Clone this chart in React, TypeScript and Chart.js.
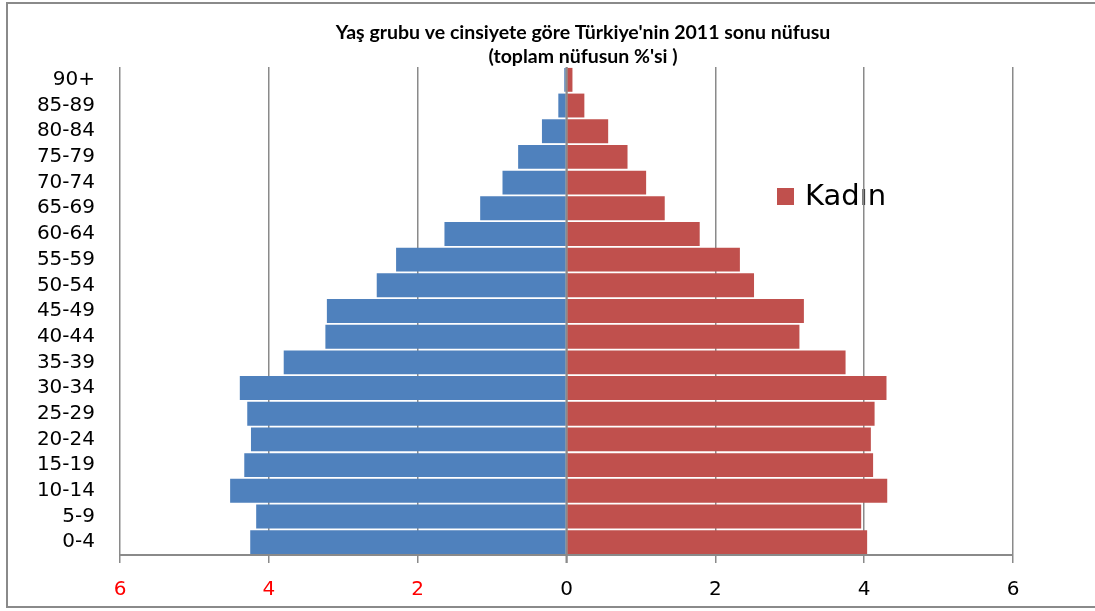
import React, { useEffect, useRef } from "react";
import { Chart, registerables } from "chart.js";

Chart.register(...registerables);

const ageGroups = [
  "0-4", "5-9", "10-14", "15-19", "20-24", "25-29", "30-34", "35-39", "40-44",
  "45-49", "50-54", "55-59", "60-64", "65-69", "70-74", "75-79", "80-84", "85-89", "90+",
];

const erkek = [4.25, 4.17, 4.52, 4.33, 4.24, 4.29, 4.39, 3.8, 3.24, 3.22, 2.55, 2.29, 1.64, 1.16, 0.86, 0.65, 0.33, 0.11, 0.03];
const kadin = [4.04, 3.96, 4.31, 4.12, 4.09, 4.14, 4.3, 3.75, 3.13, 3.19, 2.52, 2.33, 1.79, 1.32, 1.07, 0.82, 0.56, 0.24, 0.08];

const titleLines = ["Yaş grubu ve cinsiyete göre Türkiye'nin 2011 sonu nüfusu", "(toplam nüfusun %'si )"];
const legendLabel = "Kadın";

const BLUE = "#4F81BD";
const RED = "#C0504D";
const GRID = "#8a8a8a";

export default function App() {
  const ref = useRef<HTMLCanvasElement | null>(null);

  useEffect(() => {
    document.body.style.margin = "0";
    const canvas = ref.current;
    if (!canvas) return;

    const decor = {
      id: "decor",
      beforeDraw(chart: any) {
        const ctx = chart.ctx;
        ctx.save();
        ctx.fillStyle = "#ffffff";
        ctx.fillRect(0, 0, chart.width, chart.height);
        // outer frame
        ctx.strokeStyle = GRID;
        ctx.lineWidth = 2;
        ctx.strokeRect(7, 3, chart.width + 10, 604);
        // legend (only Kadın)
        ctx.fillStyle = RED;
        ctx.fillRect(777, 188, 17, 17);
        ctx.fillStyle = "#000";
        ctx.font = "29px 'DejaVu Sans'";
        ctx.textAlign = "left";
        ctx.textBaseline = "middle";
        ctx.fillText(legendLabel, 805, 197);
        ctx.restore();
      },
      afterDatasetsDraw(chart: any) {
        const ctx = chart.ctx;
        const x0 = chart.scales.x.getPixelForValue(0);
        ctx.save();
        ctx.strokeStyle = GRID;
        ctx.lineWidth = 2;
        ctx.beginPath();
        ctx.moveTo(x0, chart.chartArea.top);
        ctx.lineTo(x0, chart.chartArea.bottom + 8);
        ctx.stroke();
        ctx.restore();
      },
      afterDraw(chart: any) {
        const ctx = chart.ctx;
        ctx.save();
        ctx.fillStyle = "#000";
        ctx.font = "bold 19.5px Lato";
        ctx.textAlign = "center";
        ctx.textBaseline = "middle";
        ctx.fillText(titleLines[0], 583, 33);
        ctx.fillText(titleLines[1], 583, 57);
        ctx.restore();
      },
    };

    const chart = new Chart(canvas, {
      type: "bar",
      data: {
        labels: ageGroups,
        datasets: [
          {
            label: "Erkek",
            data: erkek.map((v) => -v),
            backgroundColor: BLUE,
            borderWidth: 0,
            barPercentage: 0.93,
            categoryPercentage: 1,
          },
          {
            label: legendLabel,
            data: kadin,
            backgroundColor: RED,
            borderWidth: 0,
            barPercentage: 0.93,
            categoryPercentage: 1,
          },
        ],
      },
      options: {
        indexAxis: "y",
        responsive: false,
        animation: false,
        devicePixelRatio: 1,
        layout: { padding: { top: 67, right: 82, left: 0, bottom: 0 } },
        plugins: {
          legend: { display: false },
          title: { display: false },
          tooltip: { enabled: false },
        },
        scales: {
          x: {
            type: "linear",
            min: -6,
            max: 6,
            stacked: true,
            afterFit: (s: any) => {
              s.height = 56;
            },
            ticks: {
              stepSize: 2,
              padding: 15,
              font: { family: "'DejaVu Sans'", size: 20 },
              color: (c: any) => (c.tick && c.tick.value < 0 ? "#FF0000" : "#000000"),
              callback: (v: any) => String(Math.abs(Number(v))),
            },
            grid: {
              color: GRID,
              lineWidth: 1.5,
              tickLength: 8,
              drawTicks: true,
            },
            border: { display: true, color: GRID, width: 2 },
          },
          y: {
            type: "category",
            stacked: true,
            reverse: true,
            afterFit: (s: any) => {
              s.width = 120;
            },
            ticks: {
              padding: 25,
              font: { family: "'DejaVu Sans'", size: 20 },
              color: "#000",
              autoSkip: false,
            },
            grid: { display: false, drawTicks: false },
            border: { display: false },
          },
        },
      },
      plugins: [decor],
    });

    return () => chart.destroy();
  }, []);

  return (
    <div style={{ width: 1095, height: 611 }}>
      <canvas ref={ref} width={1095} height={611} />
    </div>
  );
}
